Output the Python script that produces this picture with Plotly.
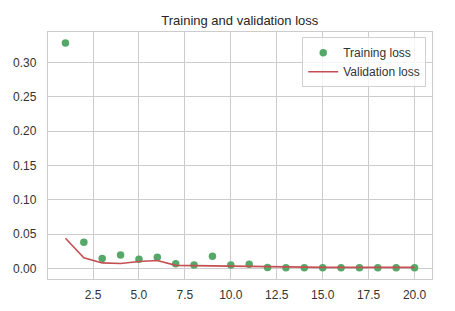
import plotly.graph_objects as go

epochs = list(range(1, 21))
training_loss = [0.328, 0.038, 0.0145, 0.0197, 0.0135, 0.0164, 0.0067, 0.0048, 0.0178, 0.0048,
                 0.0062, 0.0015, 0.0010, 0.0010, 0.0010, 0.0010, 0.0010, 0.0010, 0.0010, 0.0010]
validation_loss = [0.044, 0.0154, 0.0080, 0.0072, 0.0101, 0.0116, 0.0045, 0.0040, 0.0040, 0.0035,
                   0.0030, 0.0020, 0.0015, 0.0015, 0.0015, 0.0015, 0.0015, 0.0015, 0.0015, 0.0015]
x_ticks = [2.5, 5.0, 7.5, 10.0, 12.5, 15.0, 17.5, 20.0]
y_ticks = [0.00, 0.05, 0.10, 0.15, 0.20, 0.25, 0.30]

fig = go.Figure()
fig.add_trace(go.Scatter(x=epochs, y=training_loss, mode="markers", name="Training loss",
                         marker=dict(color="#55a868", size=7.5)))
fig.add_trace(go.Scatter(x=epochs, y=validation_loss, mode="lines", name="Validation loss",
                         line=dict(color="#c44e52", width=1.6)))

axis_common = dict(showgrid=True, gridcolor="#cccccc", gridwidth=1, zeroline=False,
                   showline=True, linecolor="#cccccc", linewidth=1.3, mirror=True,
                   ticks="", automargin=False, tickfont=dict(size=12, color="#333333"))

fig.update_layout(
    width=455, height=311,
    margin=dict(l=48, r=23, t=32, b=32),
    paper_bgcolor="white", plot_bgcolor="white",
    font=dict(family="Liberation Sans, Arial, sans-serif", color="#333333"),
    title=dict(text="Training and validation loss", x=0.527, xanchor="center",
               y=1 - 20 / 311, yanchor="middle", font=dict(size=13, color="#262626")),
    showlegend=True,
    legend=dict(x=0.985, y=0.979, xanchor="right", yanchor="top",
                bgcolor="rgba(255,255,255,0.8)", bordercolor="#d0d0d0", borderwidth=1,
                font=dict(size=12, color="#333333"), tracegroupgap=0, itemwidth=30),
)
fig.update_xaxes(range=[0.05, 20.95], tickvals=x_ticks, ticktext=[f"{v:.1f}" for v in x_ticks],
                 ticklabelstandoff=4, **axis_common)
fig.update_yaxes(range=[-0.0154, 0.3441], tickvals=y_ticks, ticktext=[f"{v:.2f}" for v in y_ticks],
                 ticklabelstandoff=8, **axis_common)

fig.write_html("out.html", config={"displayModeBar": False},
               post_script="document.body.style.margin='0';")
